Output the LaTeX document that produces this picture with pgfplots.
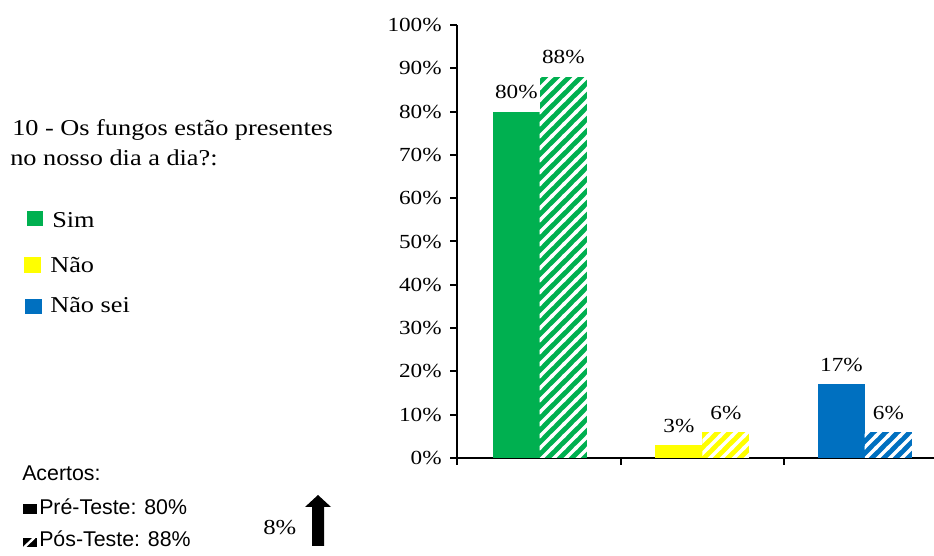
\documentclass[border=0pt]{standalone}
\usepackage{fontspec}
\setmainfont{Liberation Serif}[FakeStretch=1.16]
\newfontfamily\arial{Liberation Sans}
\usepackage{pgfplots}
\pgfplotsset{compat=1.18}
\usetikzlibrary{patterns}
\definecolor{cgreen}{HTML}{00B050}
\definecolor{cyellow}{HTML}{FFFF00}
\definecolor{cblue}{HTML}{0070C0}
\pgfdeclarepatternformonly{mystripes}{\pgfqpoint{-1pt}{-1pt}}{\pgfqpoint{10pt}{10pt}}{\pgfqpoint{9pt}{9pt}}{%
  \pgfsetlinewidth{2.6pt}%
  \pgfpathmoveto{\pgfqpoint{-1pt}{-1pt}}\pgfpathlineto{\pgfqpoint{10pt}{10pt}}%
  \pgfpathmoveto{\pgfqpoint{-1pt}{8pt}}\pgfpathlineto{\pgfqpoint{1pt}{10pt}}%
  \pgfpathmoveto{\pgfqpoint{8pt}{-1pt}}\pgfpathlineto{\pgfqpoint{10pt}{1pt}}%
  \pgfusepath{stroke}}
\tikzset{hatchw/.style={postaction={pattern=mystripes,pattern color=white}}}
\pgfplotsset{
  leftbar/.style={ybar, bar width=35.25pt, bar shift=-17.625pt, draw=none,
    every node near coord/.append style={xshift=-17.625pt}},
  rightbar/.style={ybar, bar width=35.25pt, bar shift=17.625pt, draw=none, hatchw,
    every node near coord/.append style={xshift=17.625pt}},
}
\begin{document}
\begin{tikzpicture}
\useasboundingbox (0,0) rectangle (700.5pt,417pt);
\begin{axis}[
  at={(342.75pt,73.5pt)}, anchor=south west,
  scale only axis, width=357.75pt, height=324.75pt,
  xmin=-0.51, xmax=2.425, ymin=0, ymax=100,
  axis lines*=left,
  axis line style={line width=1.5pt, black},
  ytick={0,10,...,100},
  xtick={-0.51,0.5,1.5}, xticklabels={},
  tick align=outside, major tick length=5pt,
  tick style={line width=1.5pt, black},
  yticklabel={\pgfmathprintnumber[assume math mode=true]{\tick}\%},
  yticklabel style={xshift=-3pt},
  ticklabel style={font=\fontsize{15}{17}\selectfont},
  clip=false,
  nodes near coords={\pgfmathprintnumber[assume math mode=true]{\pgfplotspointmeta}\%},
  every node near coord/.append style={font=\fontsize{15}{17}\selectfont, yshift=6pt},
]
\addplot[leftbar, fill=cgreen] coordinates {(0,80)};
\addplot[rightbar, fill=cgreen] coordinates {(0,88)};
\addplot[leftbar, fill=cyellow] coordinates {(1,3)};
\addplot[rightbar, fill=cyellow] coordinates {(1,6)};
\addplot[leftbar, fill=cblue] coordinates {(2,17)};
\addplot[rightbar, fill=cblue] coordinates {(2,6)};
\end{axis}
\begin{scope}[x=0.75pt,y=-0.75pt,shift={(0,417pt)}]
\node[anchor=base west, inner sep=0, font=\fontsize{17}{20}\selectfont] at (12,136) {10 - Os fungos estão presentes};
\node[anchor=base west, inner sep=0, font=\fontsize{17}{20}\selectfont] at (10,166) {no nosso dia a dia?:};
\fill[cgreen] (27,211) rectangle (43,226);
\fill[cyellow] (24,257) rectangle (41,273);
\fill[cblue] (25,299) rectangle (42,314);
\node[anchor=base west, inner sep=0, font=\fontsize{17}{20}\selectfont] at (52,228) {Sim};
\node[anchor=base west, inner sep=0, font=\fontsize{17}{20}\selectfont] at (50,273) {Não};
\node[anchor=base west, inner sep=0, font=\fontsize{17}{20}\selectfont] at (50,313) {Não sei};
\node[anchor=base west, inner sep=0, font=\arial\fontsize{16}{19}\selectfont] at (22,481) {Acertos:};
\fill[black] (23,504) rectangle (37,514);
\node[anchor=base west, inner sep=0, font=\arial\fontsize{16}{19}\selectfont] at (39,515) {Pré-Teste: 80\%};
\fill[black] (23,538) rectangle (37,547);
\draw[white, line width=1.8pt] (24,547.5) -- (34.5,537.5);
\node[anchor=base west, inner sep=0, font=\arial\fontsize{16}{19}\selectfont] at (39,547) {Pós-Teste: 88\%};
\node[anchor=base west, inner sep=0, font=\fontsize{16}{19}\selectfont] at (263,535) {8\%};
\fill[black] (312,546) -- (312,507) -- (305,507) -- (318,495) -- (331,507) -- (324,507) -- (324,546) -- cycle;
\end{scope}
\end{tikzpicture}
\end{document}
